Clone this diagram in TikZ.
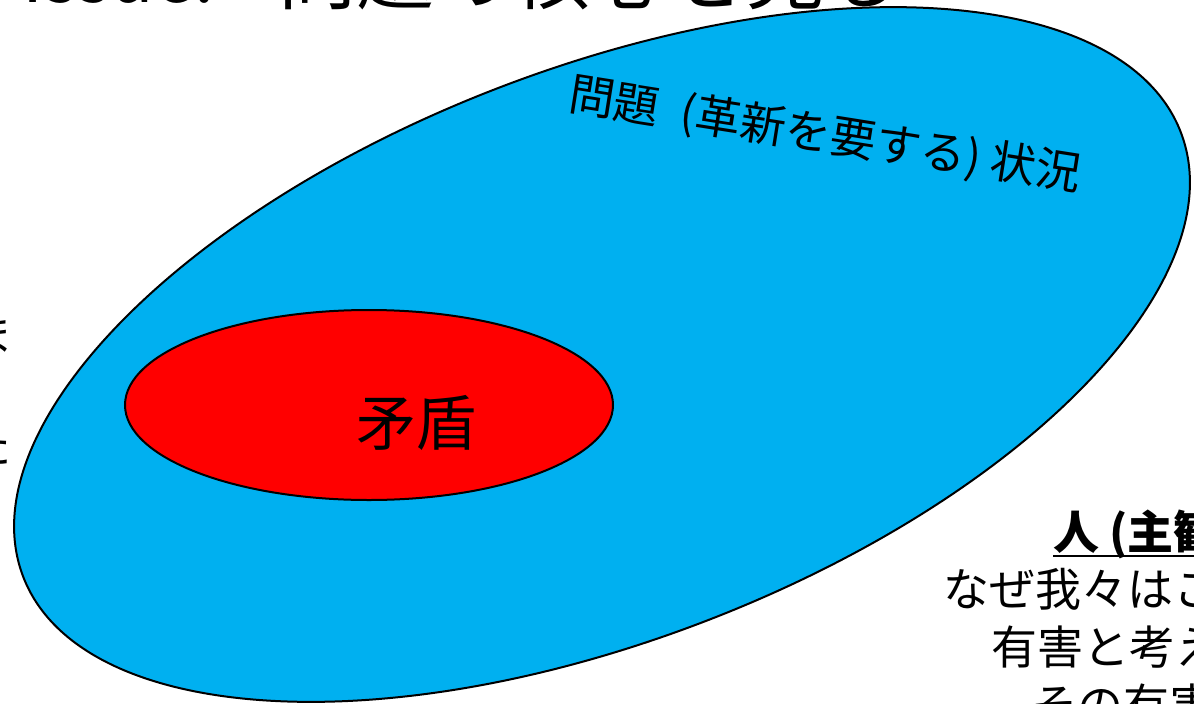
\documentclass[tikz,border=0pt]{standalone}
\usepackage{fontspec}
\setmainfont{Noto Sans CJK JP}
\usetikzlibrary{shapes.geometric}
\definecolor{sky}{HTML}{00B0F0}
\definecolor{redfill}{HTML}{FF0000}
\tikzset{
  blob/.style={ellipse, draw=black, line width=2pt, inner sep=0pt},
  txt/.style={inner sep=0pt, outer sep=0pt, text=black},
}
\begin{document}
\begin{tikzpicture}[x=1pt,y=-1pt]
\useasboundingbox (0,0) rectangle (1194,704);
\fill[white] (0,0) rectangle (1194,704);
% title (cut by the top edge)
\node[txt, anchor=base west, font=\fontsize{72}{80}\selectfont] (titleA) at (22,2) {Issue:};
\node[txt, anchor=base west, font=\fontsize{78}{86}\selectfont] (titleB) at (278,4) {問題の核心を見る};
% left column fragments (cut by the left edge)
\node[txt, anchor=east, font=\fontsize{46}{50}\selectfont] (leftA) at (14,335) {ま};
\node[txt, anchor=east, font=\fontsize{46}{50}\selectfont] (leftB) at (12,446) {た};
% big blue ellipse
\node[blob, fill=sky, minimum width=1240pt, minimum height=572pt, rotate=21] (situation) at (602,354.5) {};
\node[txt, rotate=-9, font=\fontsize{45.5}{50}\selectfont] (sitlabel) at (825,136) {問題\hspace{22pt}(革新を要する)\hspace{10pt}状況};
% red ellipse
\node[blob, fill=redfill, minimum width=488pt, minimum height=190pt] (contra) at (369,405) {};
\node[txt, font=\fontsize{60}{66}\selectfont] (contralabel) at (416,423) {矛盾};
% bottom right text (cut by the right and bottom edges)
\node[txt, anchor=base west, font=\bfseries\fontsize{46}{50}\selectfont] (person) at (1053,549) {人 (主観)};
\draw[line width=2.2pt] (person.base west) ++(0,7) -- ++(200,0);
\node[txt, anchor=base west, font=\fontsize{46}{50}\selectfont] (why1) at (943,606) {なぜ我々はこの};
\node[txt, anchor=base west, font=\fontsize{46}{50}\selectfont] (why2) at (991,664) {有害と考える};
\node[txt, anchor=base west, font=\fontsize{46}{50}\selectfont] (why3) at (1031,722) {その有害};
\end{tikzpicture}
\end{document}
